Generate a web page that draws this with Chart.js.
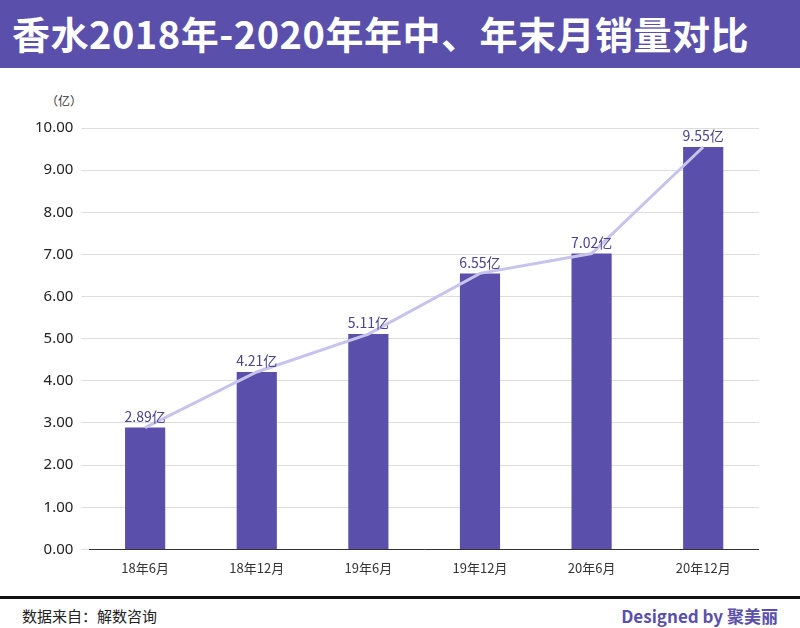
<!DOCTYPE html>
<html>
<head>
<meta charset="utf-8">
<script src="https://cdn.jsdelivr.net/npm/chart.js@4"></script>
<style>
  body { margin: 0; width: 800px; height: 628px; background: #fff; font-family: "Noto Sans CJK SC", "Noto Sans", sans-serif; overflow: hidden; }
  #title { height: 68px; background: #5a50ab; color: #fff; font-size: 38px; font-weight: bold; line-height: 66px; padding-left: 12px; letter-spacing: 0.5px; white-space: nowrap; }
  #wrap { position: absolute; top: 111px; left: 27px; width: 732px; height: 468px; }
  #unit { position: absolute; top: 92px; left: 46px; font-size: 12px; color: #333; }
  #footer { position: absolute; top: 596px; left: 0; width: 800px; border-top: 3px solid #111; height: 32px; }
  #src { position: absolute; left: 22px; top: 6px; font-size: 15px; color: #222; }
  #brand { position: absolute; right: 22px; top: 4px; font-size: 17px; font-weight: bold; color: #5a50ab; }
</style>
</head>
<body>
<div id="title">香水2018年-2020年年中、年末月销量对比</div>
<div id="unit">（亿）</div>
<div id="wrap"><canvas id="c"></canvas></div>
<div id="footer"><span id="src">数据来自：解数咨询</span><span id="brand">Designed by 聚美丽</span></div>
<script>
const categories = ['18年6月', '18年12月', '19年6月', '19年12月', '20年6月', '20年12月'];
const sales = [2.89, 4.21, 5.11, 6.55, 7.02, 9.55];
const yTicks = [0, 1, 2, 3, 4, 5, 6, 7, 8, 9, 10];

const labelPlugin = {
    id: 'labels',
    afterDatasetsDraw(chart) {
        const ctx = chart.ctx;
        const meta = chart.getDatasetMeta(1);
        ctx.save();
        ctx.font = '14px "Noto Sans CJK SC"';
        ctx.fillStyle = '#4a4390';
        ctx.textAlign = 'center';
        ctx.textBaseline = 'bottom';
        meta.data.forEach((bar, i) => {
            ctx.fillText(sales[i].toFixed(2) + '亿', bar.x, bar.y - 4);
        });
        ctx.restore();
    }
};

new Chart(document.getElementById('c'), {
    data: {
        labels: categories,
        datasets: [{
            type: 'line',
            data: sales,
            borderColor: '#c8c3ec',
            borderWidth: 3,
            pointRadius: 0,
            tension: 0
        }, {
            type: 'bar',
            data: sales,
            backgroundColor: '#5a50ab',
            barPercentage: 0.36,
            categoryPercentage: 1
        }]
    },
    options: {
        responsive: true,
        maintainAspectRatio: false,
        animation: false,
        layout: { padding: { top: 0, right: 0 } },
        plugins: { legend: { display: false }, tooltip: { enabled: false } },
        scales: {
            x: {
                grid: { display: false },
                border: { color: '#333' },
                ticks: { color: '#333', font: { size: 13, family: 'Noto Sans CJK SC' } }
            },
            y: {
                min: 0, max: 10,
                afterBuildTicks: axis => { axis.ticks = yTicks.map(v => ({ value: v })); },
                grid: { color: '#ddd' },
                border: { display: false },
                ticks: { color: '#222', font: { size: 15, family: 'Noto Sans' }, callback: v => v.toFixed(2), padding: 8 }
            }
        }
    },
    plugins: [labelPlugin]
});
</script>
</body>
</html>
